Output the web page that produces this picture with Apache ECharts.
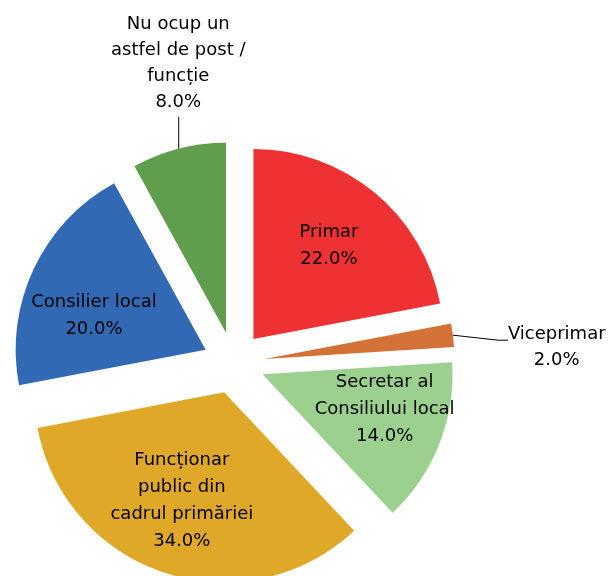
<!DOCTYPE html>
<html>
<head>
<meta charset="utf-8">
<script src="https://cdn.jsdelivr.net/npm/echarts@6/dist/echarts.min.js"></script>
<style>
  html, body { margin: 0; padding: 0; background: #fff; }
  #main { width: 615px; height: 576px; }
</style>
</head>
<body>
<div id="main"></div>
<script>
var names = ['Primar', 'Viceprimar', 'Secretar al Consiliului local', 'Funcționar public din cadrul primăriei', 'Consilier local', 'Nu ocup un astfel de post / funcție']
var labelText = ['Primar', 'Viceprimar', 'Secretar al\nConsiliului local', 'Funcționar\npublic din\ncadrul primăriei', 'Consilier local', 'Nu ocup un\nastfel de post /\nfuncție']
var values = [22, 2, 14, 34, 20, 8]
var colors = ['#EE3132', '#D37237', '#9BD08F', '#DFA829', '#3169B4', '#5E9E4C']

// label nudges (Excel puts inside labels further out, outside ones above / right)
var nudge = { 0: [13, -18], 1: [63, -10], 2: [31, -1], 3: [-12, 15], 4: [-23, 8], 5: [18, -4] }

var chart = echarts.init(document.getElementById('main'))

var pieData = values.map(function (v, i) {
  var item = {
    name: names[i],
    value: v,
    selected: true,
    itemStyle: { color: colors[i] },
  }
  if (i === 1 || i === 5) {
    item.label = { position: 'outside', lineHeight: 26 }
    item.labelLine = { show: true, length: 30, length2: 6 }
  }
  return item
})

var option = {
  animation: false,
  backgroundColor: '#fff',
  series: [
    {
      type: 'pie',
      center: ['38%', '63%'],
      radius: 190,
      startAngle: 90,
      clockwise: true,
      selectedMode: 'multiple',
      selectedOffset: 31,
      avoidLabelOverlap: false,
      data: pieData,
      itemStyle: { borderWidth: 0 },
      label: {
        show: true,
        position: 'inside',
        color: '#000',
        fontFamily: 'DejaVu Sans',
        fontSize: 18,
        lineHeight: 27,
        align: 'center',
        formatter: function (p) {
          return labelText[p.dataIndex] + '\n' + p.percent.toFixed(1) + '%'
        },
      },
      labelLine: {
        show: false,
        lineStyle: { color: '#000', width: 1 },
      },
      emphasis: { disabled: true },
      labelLayout: function (p) {
        var i = p.dataIndex
        var pts = p.labelLinePoints
        var n = nudge[i] || [0, 0]
        if (i === 5 && pts) {
          var a = pts[0]
          return {
            dx: n[0],
            dy: n[1],
            align: 'center',
            verticalAlign: 'bottom',
            labelLinePoints: [a, [a[0], a[1] - 32]],
          }
        }
        if (i === 1 && pts) {
          var b = pts[0]
          return {
            dx: n[0],
            dy: n[1],
            align: 'center',
            verticalAlign: 'top',
            labelLinePoints: [b, [b[0] + 45, b[1] + 5], [b[0] + 55, b[1] + 5]],
          }
        }
        return { dx: n[0], dy: n[1] }
      },
    },
  ],
}

chart.setOption(option)
</script>
</body>
</html>
